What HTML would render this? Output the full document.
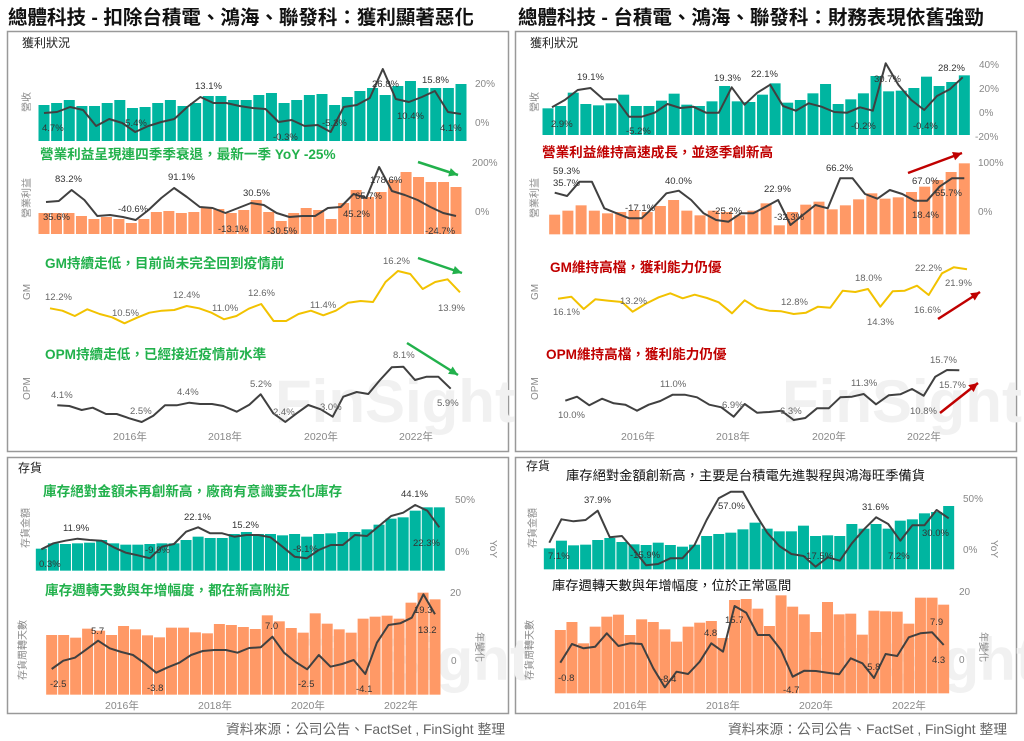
<!DOCTYPE html>
<html><head><meta charset="utf-8">
<style>
body{margin:0;background:#fff;width:1024px;height:741px;overflow:hidden;font-family:"Liberation Sans","Noto Sans CJK TC",sans-serif;}
svg{position:absolute;left:0;top:0}
text{font-family:"Liberation Sans","Noto Sans CJK TC",sans-serif}
.t{font-size:19.5px;font-weight:bold;fill:#111}
.l{font-size:9.5px;fill:#333}
.g{font-size:9.5px;fill:#666}
.ax{font-size:10px;fill:#888}
.yr{font-size:10.5px;fill:#888}
.gr{font-size:13.6px;font-weight:bold;fill:#22b14c}
.rd{font-size:13.6px;font-weight:bold;fill:#c00000}
.bk{font-size:13.3px;fill:#111}
.sec{font-size:12px;fill:#222}
.wm{font-size:60px;font-weight:bold;fill:#f1f1f1}
</style></head><body>
<svg id="s" width="1024" height="741" viewBox="0 0 1024 741">
<text x="8" y="24" class="t">總體科技 - 扣除台積電、鴻海、聯發科：獲利顯著惡化</text>
<text x="518" y="24" class="t">總體科技 - 台積電、鴻海、聯發科：財務表現依舊強勁</text>
<rect x="7.5" y="31.5" width="501" height="420" fill="none" stroke="#999" stroke-width="1.5"/>
<rect x="515.5" y="31.5" width="501" height="420" fill="none" stroke="#999" stroke-width="1.5"/>
<rect x="7.5" y="457.5" width="501" height="256" fill="none" stroke="#999" stroke-width="1.5"/>
<rect x="515.5" y="457.5" width="501" height="256" fill="none" stroke="#999" stroke-width="1.5"/>
<text x="275" y="422" class="wm">FinSight</text>
<text x="782" y="422" class="wm">FinSight</text>
<text x="290" y="680" class="wm">FinSight</text>
<text x="796" y="680" class="wm">FinSight</text>
<g id="d"></g>
<!-- TL labels -->
<text x="22" y="47" class="sec">獲利狀況</text>
<text x="30" y="112" class="ax" transform="rotate(-90 30 112)">營收</text>
<text x="30" y="218" class="ax" transform="rotate(-90 30 218)">營業利益</text>
<text x="30" y="300" class="ax" transform="rotate(-90 30 300)">GM</text>
<text x="30" y="400" class="ax" transform="rotate(-90 30 400)">OPM</text>
<text x="475" y="87" class="ax">20%</text><text x="475" y="126" class="ax">0%</text>
<text x="472" y="166" class="ax">200%</text><text x="475" y="215" class="ax">0%</text>
<text x="42" y="131" class="l">4.7%</text><text x="122" y="126" class="l">-5.4%</text><text x="195" y="89" class="l">13.1%</text>
<text x="273" y="140" class="l">-0.3%</text><text x="322" y="126" class="l">-5.3%</text><text x="372" y="87" class="l">26.8%</text>
<text x="397" y="119" class="l">10.4%</text><text x="422" y="83" class="l">15.8%</text><text x="440" y="131" class="l">4.1%</text>
<text x="40" y="159" class="gr">營業利益呈現連四季季衰退，最新一季 YoY -25%</text>
<text x="55" y="182" class="l">83.2%</text><text x="168" y="180" class="l">91.1%</text><text x="118" y="212" class="l">-40.6%</text>
<text x="43" y="220" class="l">35.6%</text><text x="243" y="196" class="l">30.5%</text><text x="218" y="232" class="l">-13.1%</text>
<text x="267" y="234" class="l">-30.5%</text><text x="343" y="217" class="l">45.2%</text><text x="355" y="199" class="l">65.7%</text>
<text x="370" y="183" class="l">178.6%</text><text x="425" y="234" class="l">-24.7%</text>
<text x="45" y="268" class="gr">GM持續走低，目前尚未完全回到疫情前</text>
<text x="45" y="300" class="g">12.2%</text><text x="112" y="316" class="g">10.5%</text><text x="173" y="298" class="g">12.4%</text>
<text x="212" y="311" class="g">11.0%</text><text x="248" y="296" class="g">12.6%</text><text x="310" y="308" class="g">11.4%</text>
<text x="383" y="264" class="g">16.2%</text><text x="438" y="311" class="g">13.9%</text>
<text x="45" y="359" class="gr">OPM持續走低，已經接近疫情前水準</text>
<text x="51" y="398" class="g">4.1%</text><text x="130" y="414" class="g">2.5%</text><text x="177" y="395" class="g">4.4%</text>
<text x="250" y="387" class="g">5.2%</text><text x="273" y="415" class="g">2.4%</text><text x="320" y="410" class="g">3.0%</text>
<text x="393" y="358" class="g">8.1%</text><text x="437" y="406" class="g">5.9%</text>
<text x="113" y="440" class="yr">2016年</text><text x="208" y="440" class="yr">2018年</text><text x="304" y="440" class="yr">2020年</text><text x="399" y="440" class="yr">2022年</text>
<!-- TR labels -->
<text x="530" y="47" class="sec">獲利狀況</text>
<text x="538" y="112" class="ax" transform="rotate(-90 538 112)">營收</text>
<text x="538" y="218" class="ax" transform="rotate(-90 538 218)">營業利益</text>
<text x="538" y="300" class="ax" transform="rotate(-90 538 300)">GM</text>
<text x="538" y="400" class="ax" transform="rotate(-90 538 400)">OPM</text>
<text x="979" y="68" class="ax">40%</text><text x="979" y="92" class="ax">20%</text><text x="979" y="116" class="ax">0%</text><text x="975" y="140" class="ax">-20%</text>
<text x="978" y="166" class="ax">100%</text><text x="978" y="215" class="ax">0%</text>
<text x="551" y="127" class="l">2.9%</text><text x="577" y="80" class="l">19.1%</text><text x="626" y="134" class="l">-5.2%</text>
<text x="714" y="81" class="l">19.3%</text><text x="751" y="77" class="l">22.1%</text><text x="851" y="129" class="l">-0.2%</text>
<text x="874" y="82" class="l">30.7%</text><text x="913" y="129" class="l">-0.4%</text><text x="938" y="71" class="l">28.2%</text>
<text x="542" y="157" class="rd">營業利益維持高速成長，並逐季創新高</text>
<text x="553" y="174" class="l">59.3%</text><text x="553" y="186" class="l">35.7%</text><text x="665" y="184" class="l">40.0%</text>
<text x="625" y="211" class="l">-17.1%</text><text x="712" y="214" class="l">-25.2%</text><text x="764" y="192" class="l">22.9%</text>
<text x="774" y="220" class="l">-32.3%</text><text x="826" y="171" class="l">66.2%</text><text x="912" y="184" class="l">67.0%</text>
<text x="935" y="196" class="l">65.7%</text><text x="912" y="218" class="l">18.4%</text>
<text x="550" y="272" class="rd">GM維持高檔，獲利能力仍優</text>
<text x="553" y="315" class="g">16.1%</text><text x="620" y="304" class="g">13.2%</text><text x="781" y="305" class="g">12.8%</text>
<text x="855" y="281" class="g">18.0%</text><text x="867" y="325" class="g">14.3%</text><text x="915" y="271" class="g">22.2%</text>
<text x="945" y="286" class="g">21.9%</text><text x="914" y="313" class="g">16.6%</text>
<text x="546" y="359" class="rd">OPM維持高檔，獲利能力仍優</text>
<text x="558" y="418" class="g">10.0%</text><text x="660" y="387" class="g">11.0%</text><text x="722" y="408" class="g">6.9%</text>
<text x="780" y="414" class="g">6.3%</text><text x="851" y="386" class="g">11.3%</text><text x="930" y="363" class="g">15.7%</text>
<text x="939" y="388" class="g">15.7%</text><text x="910" y="414" class="g">10.8%</text>
<text x="621" y="440" class="yr">2016年</text><text x="716" y="440" class="yr">2018年</text><text x="812" y="440" class="yr">2020年</text><text x="907" y="440" class="yr">2022年</text>
<!-- BL labels -->
<text x="18" y="472" class="sec">存貨</text>
<text x="29" y="548" class="ax" transform="rotate(-90 29 548)">存貨金額</text>
<text x="26" y="680" class="ax" transform="rotate(-90 26 680)">存貨周轉天數</text>
<text x="490" y="540" class="ax" transform="rotate(90 490 540)">YoY</text>
<text x="476" y="632" class="ax" transform="rotate(90 476 632)">年變化</text>
<text x="455" y="503" class="ax">50%</text><text x="455" y="555" class="ax">0%</text>
<text x="450" y="596" class="ax">20</text><text x="451" y="664" class="ax">0</text>
<text x="43" y="496" class="gr">庫存絕對金額未再創新高，廠商有意識要去化庫存</text>
<text x="401" y="497" class="l">44.1%</text><text x="63" y="531" class="l">11.9%</text><text x="184" y="520" class="l">22.1%</text>
<text x="232" y="528" class="l">15.2%</text><text x="39" y="567" class="l">0.3%</text><text x="145" y="553" class="l">-9.9%</text>
<text x="293" y="552" class="l">-8.1%</text><text x="413" y="546" class="l">22.3%</text>
<text x="45" y="595" class="gr">庫存週轉天數與年增幅度，都在新高附近</text>
<text x="91" y="634" class="l">5.7</text><text x="50" y="687" class="l">-2.5</text><text x="147" y="691" class="l">-3.8</text>
<text x="265" y="629" class="l">7.0</text><text x="298" y="687" class="l">-2.5</text><text x="356" y="692" class="l">-4.1</text>
<text x="414" y="613" class="l">19.3</text><text x="418" y="633" class="l">13.2</text>
<text x="105" y="709" class="yr">2016年</text><text x="198" y="709" class="yr">2018年</text><text x="291" y="709" class="yr">2020年</text><text x="384" y="709" class="yr">2022年</text>
<!-- BR labels -->
<text x="526" y="470" class="sec">存貨</text>
<text x="566" y="480" class="bk">庫存絕對金額創新高，主要是台積電先進製程與鴻海旺季備貨</text>
<text x="536" y="548" class="ax" transform="rotate(-90 536 548)">存貨金額</text>
<text x="533" y="680" class="ax" transform="rotate(-90 533 680)">存貨周轉天數</text>
<text x="991" y="540" class="ax" transform="rotate(90 991 540)">YoY</text>
<text x="980" y="632" class="ax" transform="rotate(90 980 632)">年變化</text>
<text x="963" y="502" class="ax">50%</text><text x="963" y="553" class="ax">0%</text>
<text x="959" y="595" class="ax">20</text><text x="959" y="663" class="ax">0</text>
<text x="584" y="503" class="l">37.9%</text><text x="718" y="509" class="l">57.0%</text><text x="862" y="510" class="l">31.6%</text>
<text x="548" y="559" class="l">7.1%</text><text x="630" y="558" class="l">-15.9%</text><text x="803" y="559" class="l">-17.5%</text>
<text x="888" y="559" class="l">7.2%</text><text x="922" y="536" class="l">30.0%</text>
<text x="552" y="590" class="bk">庫存週轉天數與年增幅度，位於正常區間</text>
<text x="558" y="681" class="l">-0.8</text><text x="660" y="682" class="l">-8.4</text><text x="704" y="636" class="l">4.8</text>
<text x="725" y="623" class="l">15.7</text><text x="783" y="693" class="l">-4.7</text><text x="864" y="670" class="l">-5.8</text>
<text x="930" y="625" class="l">7.9</text><text x="932" y="663" class="l">4.3</text>
<text x="613" y="709" class="yr">2016年</text><text x="706" y="709" class="yr">2018年</text><text x="799" y="709" class="yr">2020年</text><text x="892" y="709" class="yr">2022年</text>
<text x="226" y="734" font-size="13.8" fill="#666">資料來源：公司公告、FactSet , FinSight 整理</text>
<text x="728" y="734" font-size="13.8" fill="#666">資料來源：公司公告、FactSet , FinSight 整理</text>
</svg>
<script>
var g=document.getElementById('d'),NS='http://www.w3.org/2000/svg';
function el(n,a){var e=document.createElementNS(NS,n);for(var k in a)e.setAttribute(k,a[k]);g.appendChild(e);return e;}
var TEAL='#00b5a0',OR='#ff9966';
function bars(ox,oy,s,x0,x1,base,tops,col,w){var n=tops.length;for(var i=0;i<n;i++){var cx=ox+(x0+(x1-x0)*i/(n-1))*s,t=oy+tops[i]*s,b=oy+base*s;el('rect',{x:cx-w/2,y:t,width:w,height:b-t,fill:col});}}
function line(ox,oy,s,x0,x1,ys,col,sw){var n=ys.length,p=[];for(var i=0;i<n;i++)p.push((ox+(x0+(x1-x0)*i/(n-1))*s).toFixed(1)+','+(oy+ys[i]*s).toFixed(1));el('polyline',{points:p.join(' '),fill:'none',stroke:col,'stroke-width':sw,'stroke-linejoin':'round'});}
function pline(ox,oy,s,pts,col,sw){var p=[];for(var i=0;i<pts.length;i+=2)p.push((ox+pts[i]*s).toFixed(1)+','+(oy+pts[i+1]*s).toFixed(1));el('polyline',{points:p.join(' '),fill:'none',stroke:col,'stroke-width':sw,'stroke-linejoin':'round'});}
function arrow(x1,y1,x2,y2,col){el('line',{x1:x1,y1:y1,x2:x2,y2:y2,stroke:col,'stroke-width':2.5});var a=Math.atan2(y2-y1,x2-x1),L=10;el('polygon',{points:x2+','+y2+' '+(x2-L*Math.cos(a-0.45))+','+(y2-L*Math.sin(a-0.45))+' '+(x2-L*Math.cos(a+0.45))+','+(y2-L*Math.sin(a+0.45)),fill:col});}
var DK='#404040',Y='#f2c200',W=11;
// TL
bars(0,0,1,44,461,141,[105,103,100,106,106,103,100,108,107,103,100,106,103,96,96,100,100,95,93,103,100,95,94,105,97,91,88,95,86,81,88,88,88,84],TEAL,W);
line(0,0,1,44,461,[113,112,107,110,126,119,123,132,126,122,119,107,97,103,103,106,108,109,122,120,126,125,132,107,105,98,69,99,102,97,91,112,114],DK,2);
bars(0,0,1,44,456,234,[213,213,213,216,219,217,219,223,219,212,211,213,212,208,209,213,210,200,212,221,213,208,210,219,203,190,197,192,180,172,177,182,182,187],OR,W);
line(0,0,1,46,456,[202,201,190,200,216,215,217,220,210,198,188,197,207,208,213,208,203,205,213,217,216,216,208,207,194,198,167,191,195,200,207,213,216],DK,2);
line(0,240,1/3,150,1380,[205,212,228,208,222,232,250,233,218,212,210,198,205,218,238,228,206,192,243,243,222,212,226,212,188,183,186,126,93,102,147,126,118,157],Y,2);
pline(0,240,1/3,[172,496,208,498,245,510,278,503,318,522,350,522,388,535,425,546,460,527,495,496,530,496,568,488,600,492,636,492,670,498,710,515,748,494,782,463,820,520,856,546,890,520,925,495,962,508,998,530,1030,470,1070,456,1105,462,1140,420,1175,382,1210,380,1245,420,1280,410,1315,410,1352,446],DK,2);
arrow(418,162,458,175,'#22b14c');arrow(418,258,462,273,'#22b14c');arrow(407,343,458,375,'#22b14c');
// TR
bars(512,0,1/3,108,1357,405,[325,318,278,312,316,310,284,318,318,302,281,314,318,304,258,304,306,284,250,308,300,280,252,312,298,280,228,274,272,264,230,258,246,226],TEAL,W);
line(512,0,1/3,120,1352,[322,300,270,264,298,298,350,350,338,312,324,320,338,338,262,314,278,254,318,332,310,320,336,338,322,332,190,255,300,330,288,268,232],DK,2);
bars(512,0,1/3,128,1357,703,[644,632,616,632,640,636,630,636,618,600,632,646,632,636,646,632,610,676,636,614,605,628,616,598,580,596,592,576,560,540,516,490],OR,W);
line(512,0,1/3,128,1357,[578,588,545,545,625,640,655,655,620,580,572,600,640,660,665,640,640,620,600,675,645,615,625,535,535,582,596,570,582,602,602,560,535,535],DK,2);
pline(512,240,1/3,[138,176,178,170,215,207,250,178,290,182,330,186,362,215,400,192,440,172,475,160,512,175,548,164,585,174,620,187,660,220,698,181,735,204,772,212,808,214,845,222,882,218,918,200,955,203,992,152,1030,156,1068,147,1105,200,1142,154,1178,152,1215,137,1250,165,1290,100,1325,82,1365,88],Y,2);
pline(512,240,1/3,[160,482,195,470,232,496,270,476,305,490,340,494,375,512,410,494,445,483,482,464,518,464,555,472,592,494,628,502,665,530,698,492,735,518,772,516,808,512,845,540,880,534,915,505,950,505,985,472,1020,470,1055,462,1092,493,1130,466,1165,463,1200,447,1235,467,1270,410,1305,390,1342,391],DK,2);
arrow(908,173,962,153,'#c00000');arrow(938,319,980,292,'#c00000');arrow(940,413,978,383,'#c00000');
// BL
bars(0,450,1/3,124,1318,362,[296,280,282,280,278,270,280,284,284,282,280,280,270,260,264,264,252,246,252,252,256,252,260,252,250,246,246,238,224,206,202,182,172,172],TEAL,W);
line(0,450,1/3,124,1318,[298,280,272,266,270,272,292,308,316,325,290,282,245,232,250,250,260,255,255,262,290,320,325,300,285,285,255,258,228,198,188,165,182,232],DK,2);
bars(0,450,1/3,155,1305,734,[555,555,563,536,542,555,528,538,556,562,533,533,547,550,522,525,531,537,496,514,534,548,490,521,538,548,506,500,497,506,458,428,448],OR,W);
line(0,450,1/3,155,1305,[657,632,623,598,572,595,606,615,640,668,652,638,615,603,600,600,608,594,592,560,608,636,658,615,650,642,630,672,578,525,520,503,433,493],DK,2);
// BR
bars(512,450,1/3,112,1310,358,[295,272,286,284,270,264,276,283,285,278,285,290,284,258,252,248,238,218,236,244,244,227,258,256,258,222,236,222,236,212,208,190,186,168],TEAL,W);
line(512,450,1/3,112,1310,[278,208,214,210,182,262,258,300,346,342,325,325,285,210,145,125,125,190,248,288,312,318,350,322,332,280,238,202,222,272,226,226,180,205],DK,2);
bars(512,450,1/3,145,1295,730,[540,516,580,530,500,494,555,508,516,538,575,530,518,513,564,450,447,476,528,436,470,493,546,456,493,491,554,482,484,485,521,443,443,464],OR,W);
line(512,450,1/3,145,1295,[638,582,595,590,550,588,580,582,655,712,665,672,635,580,605,468,488,555,555,600,680,662,663,668,673,625,640,684,612,618,562,550,547,585],DK,2);
</script>
</body></html>
